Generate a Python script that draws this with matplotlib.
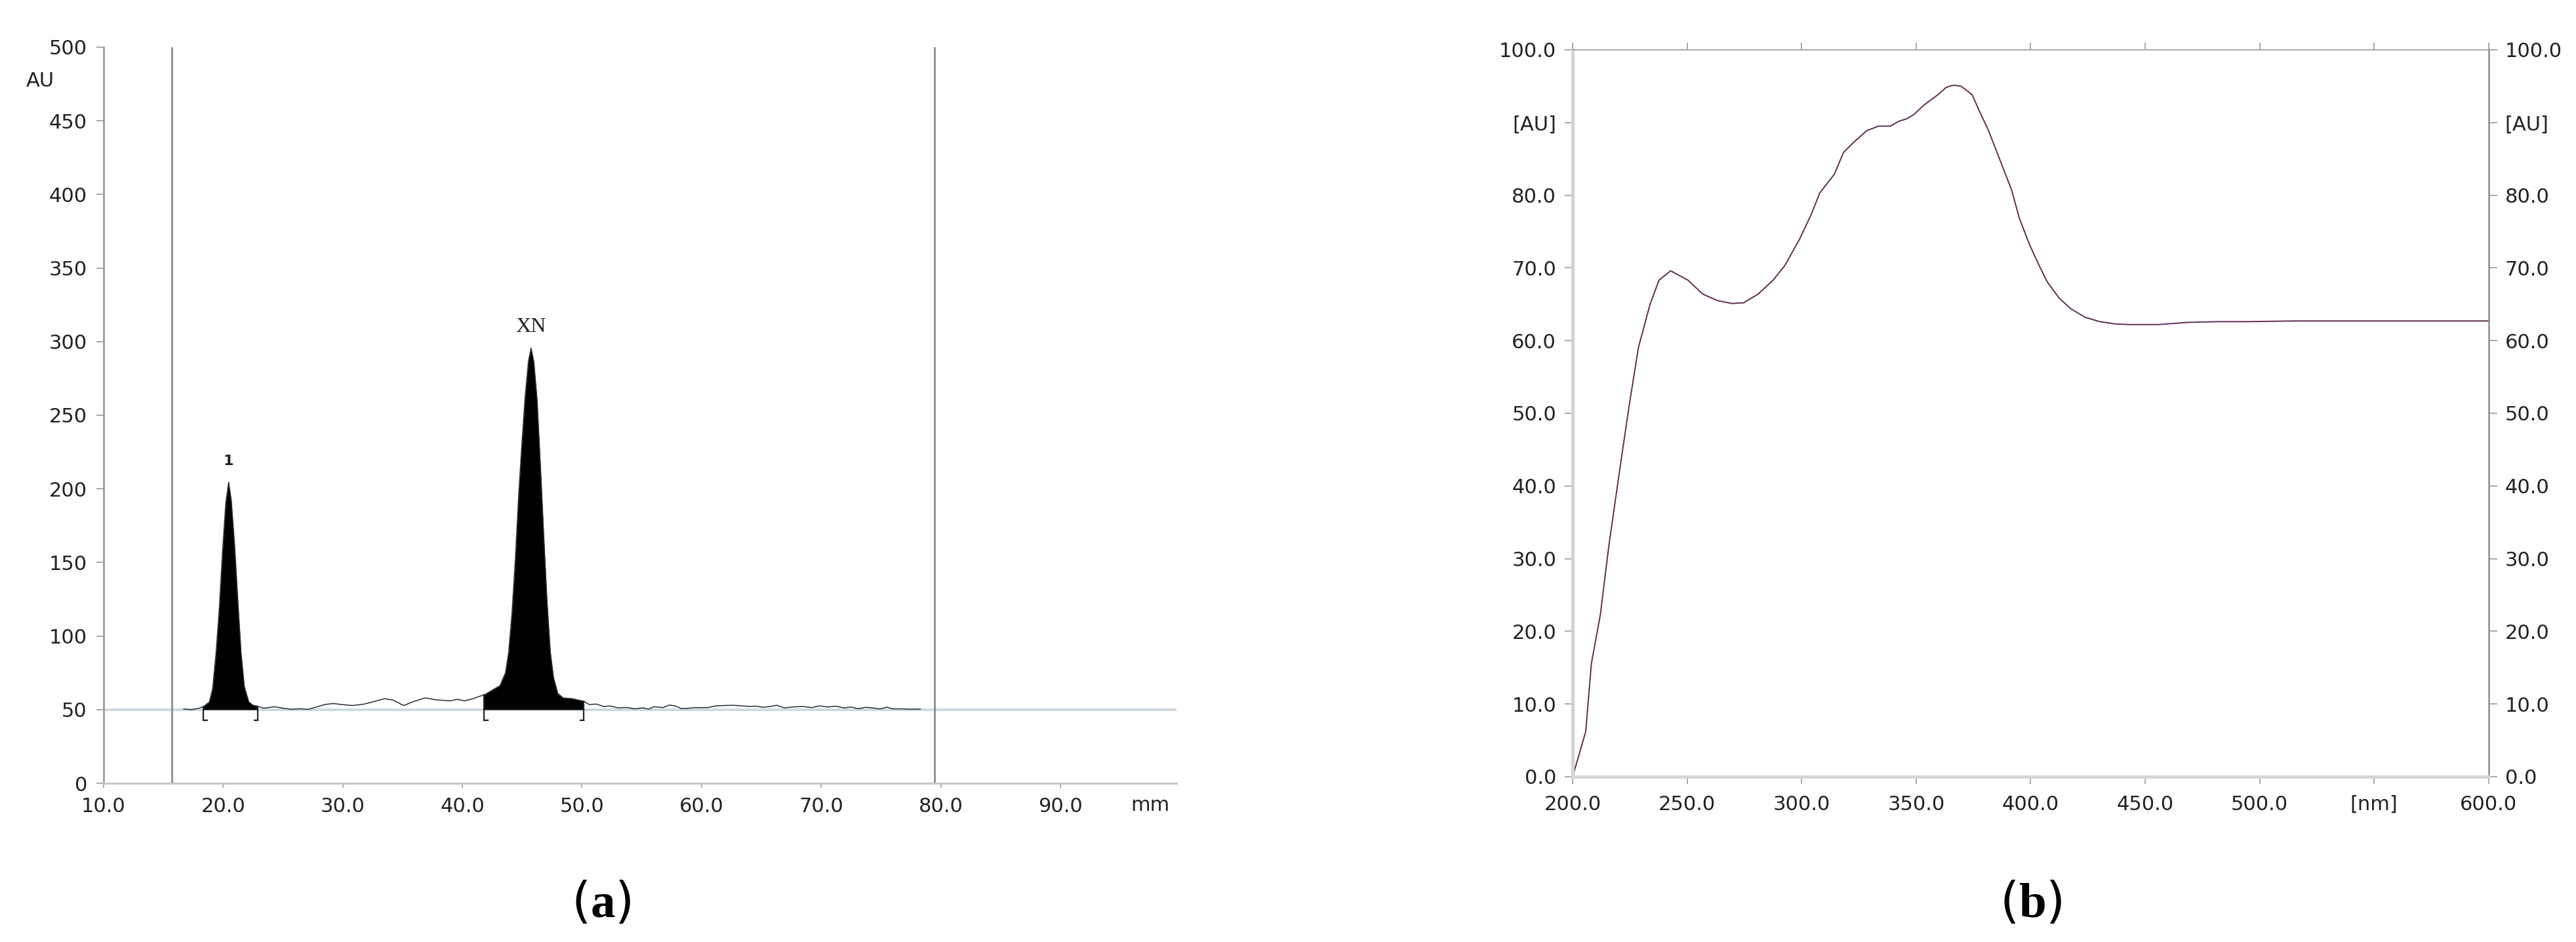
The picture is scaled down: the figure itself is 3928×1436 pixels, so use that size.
import numpy as np
import matplotlib.pyplot as plt

plt.rcParams['mathtext.fontset'] = 'custom'
plt.rcParams['mathtext.rm'] = 'Liberation Serif'
plt.rcParams['mathtext.bf'] = 'Liberation Serif:bold'

# --- (a) densitogram, track position [mm] vs signal [AU] ---
track_mm = [16.7, 17.3, 17.9, 18.35, 18.85, 19.12, 19.4, 19.67, 19.95, 20.22, 20.46,
            20.68, 20.95, 21.22, 21.5, 21.77, 22.14, 22.5, 22.9, 23.4, 24.3, 25.0, 25.7,
            26.4, 27.1, 27.8, 28.5, 29.2, 30.0, 30.8, 31.8, 32.6, 33.5, 34.2, 35.1,
            35.9, 36.9, 37.7, 38.9, 39.6, 40.2, 40.9, 41.4, 41.83, 42.59, 43.14,
            43.6, 43.87, 44.15, 44.42, 44.7, 44.97, 45.24, 45.52, 45.74, 45.97, 46.25,
            46.52, 46.8, 47.07, 47.35, 47.62, 47.98, 48.44, 49.17, 49.7, 50.15, 50.6,
            51.2, 51.8, 52.4, 53.0, 53.7, 54.4, 55.1, 55.6, 56.0, 56.8, 57.3, 57.8,
            58.3, 58.7, 59.4, 60.5, 61.2, 61.9, 62.6, 63.3, 64.0, 64.6, 65.1, 65.8,
            66.3, 66.9, 67.6, 68.4, 69.2, 69.9, 70.5, 71.2, 71.9, 72.5, 73.1, 73.7,
            74.2, 74.9, 75.5, 76.0, 76.7, 77.4, 78.3]
track_au = [50.5, 50.0, 50.8, 52.0, 55.3, 64.2, 87.9, 117.6, 157.8, 190.4, 204.5,
            191.9, 162.2, 125.0, 87.9, 65.6, 55.3, 53.0, 52.3, 51.0, 52.0, 51.0, 50.3,
            50.6, 50.2, 51.8, 53.5, 54.2, 53.4, 52.8, 53.8, 55.5, 57.5, 56.5, 52.8,
            55.5, 58.0, 56.8, 56.0, 57.0, 56.0, 57.5, 59.0, 60.0, 63.7, 66.3,
            75.0, 89.0, 115.6, 150.8, 194.9, 230.0, 261.8, 286.5, 295.6, 286.5, 260.0,
            216.0, 168.4, 124.4, 89.2, 71.6, 61.0, 57.9, 57.5, 56.5, 55.7, 53.5,
            53.8, 52.2, 52.5, 51.2, 51.5, 50.6, 51.2, 50.4, 52.0, 51.4, 53.2, 52.5,
            50.8, 50.8, 51.4, 51.4, 52.6, 52.8, 53.0, 52.6, 52.2, 52.4, 51.6, 52.2,
            53.0, 51.2, 51.8, 52.2, 51.4, 52.6, 51.8, 52.4, 51.2, 51.8, 50.6, 51.6,
            51.3, 50.5, 51.7, 50.5, 50.6, 50.3, 50.4]
baseline_au = 50
peak_names = ['1', 'XN']
peak_pos = [20.46, 45.74]
peak_top = [204.5, 295.6]
peak_windows = [(18.35, 22.9), (41.83, 50.15)]
track_marks = [15.7, 79.5]
a_xticks = [10, 20, 30, 40, 50, 60, 70, 80, 90]
a_yticks = [0, 50, 100, 150, 200, 250, 300, 350, 400, 450, 500]

# --- (b) UV spectrum, wavelength [nm] vs absorbance [AU] ---
wl_nm = [200, 205.7, 208.2, 212.1, 215.9, 221, 224.9, 228.7, 233.8, 237.7, 242.8,
         250.4, 256.8, 263.2, 269.6, 274.7, 281, 287.5, 292.6, 299, 304.1, 307.9,
         314.3, 318.3, 322.8, 328.5, 333.6, 338.7, 342.6, 345.8, 349, 353.4, 359.8,
         363, 365.5, 367.5, 369.5, 371.3, 374.5, 377.7, 381.6, 384.8, 388, 391.7, 395,
         399.5, 403.3, 407.2, 412.3, 417.4, 423.8, 430.2, 436.6, 443, 455.7, 468.5,
         481.3, 494.1, 515.5, 550, 600]
absorb = [0, 6.2, 15.6, 22.3, 32, 43.2, 51.5, 59, 65, 68.3, 69.6,
          68.3, 66.4, 65.5, 65.1, 65.2, 66.4, 68.3, 70.3, 73.9, 77.3, 80.3,
          82.9, 85.9, 87.3, 88.9, 89.5, 89.5, 90.2, 90.5, 91.1, 92.4, 93.9,
          94.8, 95.1, 95.1, 95.0, 94.6, 93.8, 91.5, 88.9, 86.3, 83.7, 80.7, 76.9,
          73.2, 70.6, 68.1, 65.9, 64.4, 63.2, 62.6, 62.3, 62.2, 62.2, 62.5,
          62.6, 62.6, 62.7, 62.7, 62.7]
b_xticks = [200, 250, 300, 350, 400, 450, 500, 550, 600]
b_xlabels = ['200.0', '250.0', '300.0', '350.0', '400.0', '450.0', '500.0', '[nm]', '600.0']
b_yticks = [0, 10, 20, 30, 40, 50, 60, 70, 80, 90, 100]
b_ylabels = ['0.0', '10.0', '20.0', '30.0', '40.0', '50.0', '60.0', '70.0', '80.0', '[AU]', '100.0']

FS = 22
fig = plt.figure(figsize=(39.28, 14.36), dpi=100)

# ---------------- panel (a) ----------------
ax = fig.add_axes([0.0402, 0.1685, 0.4165, 0.7814])
x = np.array(track_mm)
y = np.array(track_au)
ax.axhline(baseline_au, color='#cfd7df', lw=2.8, zorder=1)
for m in track_marks:
    ax.axvline(m, color='#8c8c8c', lw=2.0, zorder=2)
for a, b in peak_windows:
    sel = (x >= a) & (x <= b)
    ax.fill_between(x[sel], baseline_au, y[sel], color='black', lw=0, zorder=3)
    ya = np.interp(a, x, y)
    yb = np.interp(b, x, y)
    ax.plot([a, a], [ya, baseline_au - 7], color='#222222', lw=1.6, zorder=4)
    ax.plot([a, a + 0.3], [baseline_au - 7, baseline_au - 7], color='#222222', lw=1.6, zorder=4)
    ax.plot([b, b], [yb, baseline_au - 7], color='#222222', lw=1.6, zorder=4)
    ax.plot([b - 0.3, b], [baseline_au - 7, baseline_au - 7], color='#222222', lw=1.6, zorder=4)
ax.plot(x, y, color='#2a2d35', lw=1.1, zorder=4)
ax.text(peak_pos[0], peak_top[0] + 10, peak_names[0], ha='center', va='bottom',
        fontsize=16, fontweight='bold', color='#222222')
ax.text(peak_pos[1], peak_top[1] + 8, peak_names[1], ha='center', va='bottom',
        fontsize=23, family='Liberation Serif', color='#222222')

ax.set_xlim(10, 99.7)
ax.set_ylim(0, 500)
ax.set_xticks(a_xticks)
ax.set_xticklabels([f'{v:.1f}' for v in a_xticks])
ax.set_yticks(a_yticks)
ax.tick_params(axis='y', direction='out', length=8, width=1.2, color='#9a9a9a',
               labelsize=FS, pad=10, labelcolor='#222222')
ax.tick_params(axis='x', direction='out', length=5, width=1.2, color='#9a9a9a',
               labelsize=FS, pad=10, labelcolor='#222222')
for s in ['top', 'right']:
    ax.spines[s].set_visible(False)
ax.spines['left'].set_color('#9a9a9a')
ax.spines['left'].set_linewidth(2.0)
ax.spines['bottom'].set_color('#c6c6c6')
ax.spines['bottom'].set_linewidth(2.2)
ax.text(97.5, -0.017, 'mm', transform=ax.get_xaxis_transform(), ha='center', va='top',
        fontsize=FS, color='#222222')
fig.text(0.0155, 0.9143, 'AU', ha='center', va='center', fontsize=FS, color='#222222')

# ---------------- panel (b) ----------------
bx = fig.add_axes([0.6105, 0.1755, 0.3556, 0.7716])
bx.plot(wl_nm, absorb, color='#5c2e4e', lw=1.4)
bx.set_xlim(200, 600)
bx.set_ylim(0, 100)
bx.set_xticks(b_xticks)
bx.set_xticklabels(b_xlabels)
bx.set_yticks(b_yticks)
bx.set_yticklabels(b_ylabels)
bx.tick_params(axis='y', which='both', left=True, right=True, labelleft=True, labelright=True,
               direction='out', length=9, width=1.2, color='#9a9a9a',
               labelsize=FS, pad=9, labelcolor='#222222')
bx.tick_params(axis='x', which='both', bottom=True, top=True, labeltop=False,
               direction='out', length=8, width=1.2, color='#9a9a9a',
               labelsize=FS, pad=12, labelcolor='#222222')
bx.spines['left'].set_color('#d2d2d2')
bx.spines['left'].set_linewidth(3.8)
bx.spines['bottom'].set_color('#d6d6d6')
bx.spines['bottom'].set_linewidth(3.8)
bx.spines['top'].set_color('#a0a0a0')
bx.spines['top'].set_linewidth(1.3)
bx.spines['right'].set_color('#8c8c8c')
bx.spines['right'].set_linewidth(1.8)

# captions
fig.text(0.2335, 0.041, r'($\mathbf{a}$)', ha='center', va='center', fontsize=54)
fig.text(0.7884, 0.041, r'($\mathbf{b}$)', ha='center', va='center', fontsize=54)

fig.savefig('out.png', dpi=100, facecolor='white')
